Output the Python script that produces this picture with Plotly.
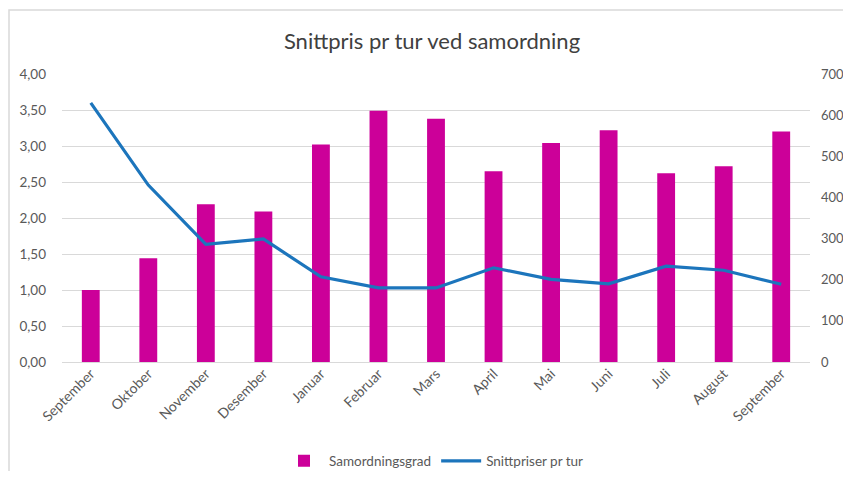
import plotly.graph_objects as go

months = ["September", "Oktober", "November", "Desember", "Januar", "Februar", "Mars",
          "April", "Mai", "Juni", "Juli", "August", "September"]
samordningsgrad = [1.00, 1.44, 2.19, 2.09, 3.02, 3.49, 3.38, 2.65, 3.04, 3.22, 2.62, 2.72, 3.20]
snittpriser = [630, 430, 286, 299, 207, 180, 180, 229, 201, 190, 233, 223, 189]

left_ticks = [0, 0.5, 1.0, 1.5, 2.0, 2.5, 3.0, 3.5, 4.0]
left_labels = ["0,00", "0,50", "1,00", "1,50", "2,00", "2,50", "3,00", "3,50", "4,00"]
right_ticks = [0, 100, 200, 300, 400, 500, 600, 700]

xpos = list(range(len(months)))

# page has an 8px body margin on every side; keep figure inside the window
OFF = 8
W, H = 851 - 2 * OFF, 479 - 2 * OFF
plot_l, plot_r, plot_t, plot_b = 62, 810, 74, 362  # page pixels of plot area
ml, mr, mt, mb = plot_l - OFF, W - (plot_r - OFF), plot_t - OFF, H - (plot_b - OFF)
pw, ph = W - ml - mr, H - mt - mb

def px_x(x):  # page pixel -> paper
    return (x - OFF - ml) / pw

def px_y(y):
    return (H - mb - (y - OFF)) / ph

def cx(x):  # page pixel -> container fraction
    return (x - OFF) / W

def cy(y):
    return 1 - (y - OFF) / H

font_family = "Lato, Carlito, Calibri, sans-serif"
gray = "#595959"

fig = go.Figure()
fig.add_trace(go.Bar(
    x=xpos, y=samordningsgrad, name="Samordningsgrad",
    marker=dict(color="#CC0099", line=dict(width=0)),
    yaxis="y",
))
fig.add_trace(go.Scatter(
    x=xpos, y=snittpriser, name="Snittpriser pr tur", mode="lines",
    line=dict(color="#1C75BC", width=3.2),
    yaxis="y2",
))

fig.update_layout(
    width=W, height=H, autosize=False,
    margin=dict(l=ml, r=mr, t=mt, b=mb, autoexpand=False),
    paper_bgcolor="white", plot_bgcolor="white",
    font=dict(family=font_family, color=gray, size=13),
    title=dict(text="Snittpris pr tur ved samordning", x=cx(432), xanchor="center",
               xref="container", yref="container",
               y=cy(41), yanchor="middle",
               font=dict(size=22, color="#404040", family=font_family)),
    bargap=0.69,
    xaxis=dict(
        range=[-0.5, len(months) - 0.5], automargin=False,
        tickmode="array", tickvals=xpos, ticktext=months,
        tickangle=-45, showgrid=False, zeroline=False,
        showline=False, ticks="",
        tickfont=dict(size=14, color=gray),
    ),
    yaxis=dict(
        range=[0, 4], automargin=False,
        tickmode="array", tickvals=left_ticks, ticktext=left_labels,
        showgrid=True, gridcolor="#D9D9D9", gridwidth=1, zeroline=True,
        zerolinecolor="#D9D9D9", zerolinewidth=1,
        showline=False, ticks="", ticklabelstandoff=15,
        tickfont=dict(size=13.5, color=gray),
    ),
    yaxis2=dict(
        range=[0, 700], automargin=False, tickmode="array", tickvals=right_ticks,
        overlaying="y", side="right", showgrid=False, zeroline=False,
        showline=False, ticks="", ticklabelstandoff=10,
        tickfont=dict(size=13, color=gray),
    ),
    legend=dict(orientation="h", xref="container", yref="container",
                x=cx(434), xanchor="center", y=cy(461), yanchor="middle",
                font=dict(size=13.5, color=gray), traceorder="normal",
                itemwidth=40),
    showlegend=True,
    shapes=[dict(type="rect", xref="paper", yref="paper",
                 x0=px_x(9), x1=px_x(870), y0=px_y(500), y1=px_y(10),
                 line=dict(color="#D9D9D9", width=1.5), fillcolor="rgba(0,0,0,0)",
                 layer="below")],
)

fig.write_html("out.html", config={"responsive": False})
